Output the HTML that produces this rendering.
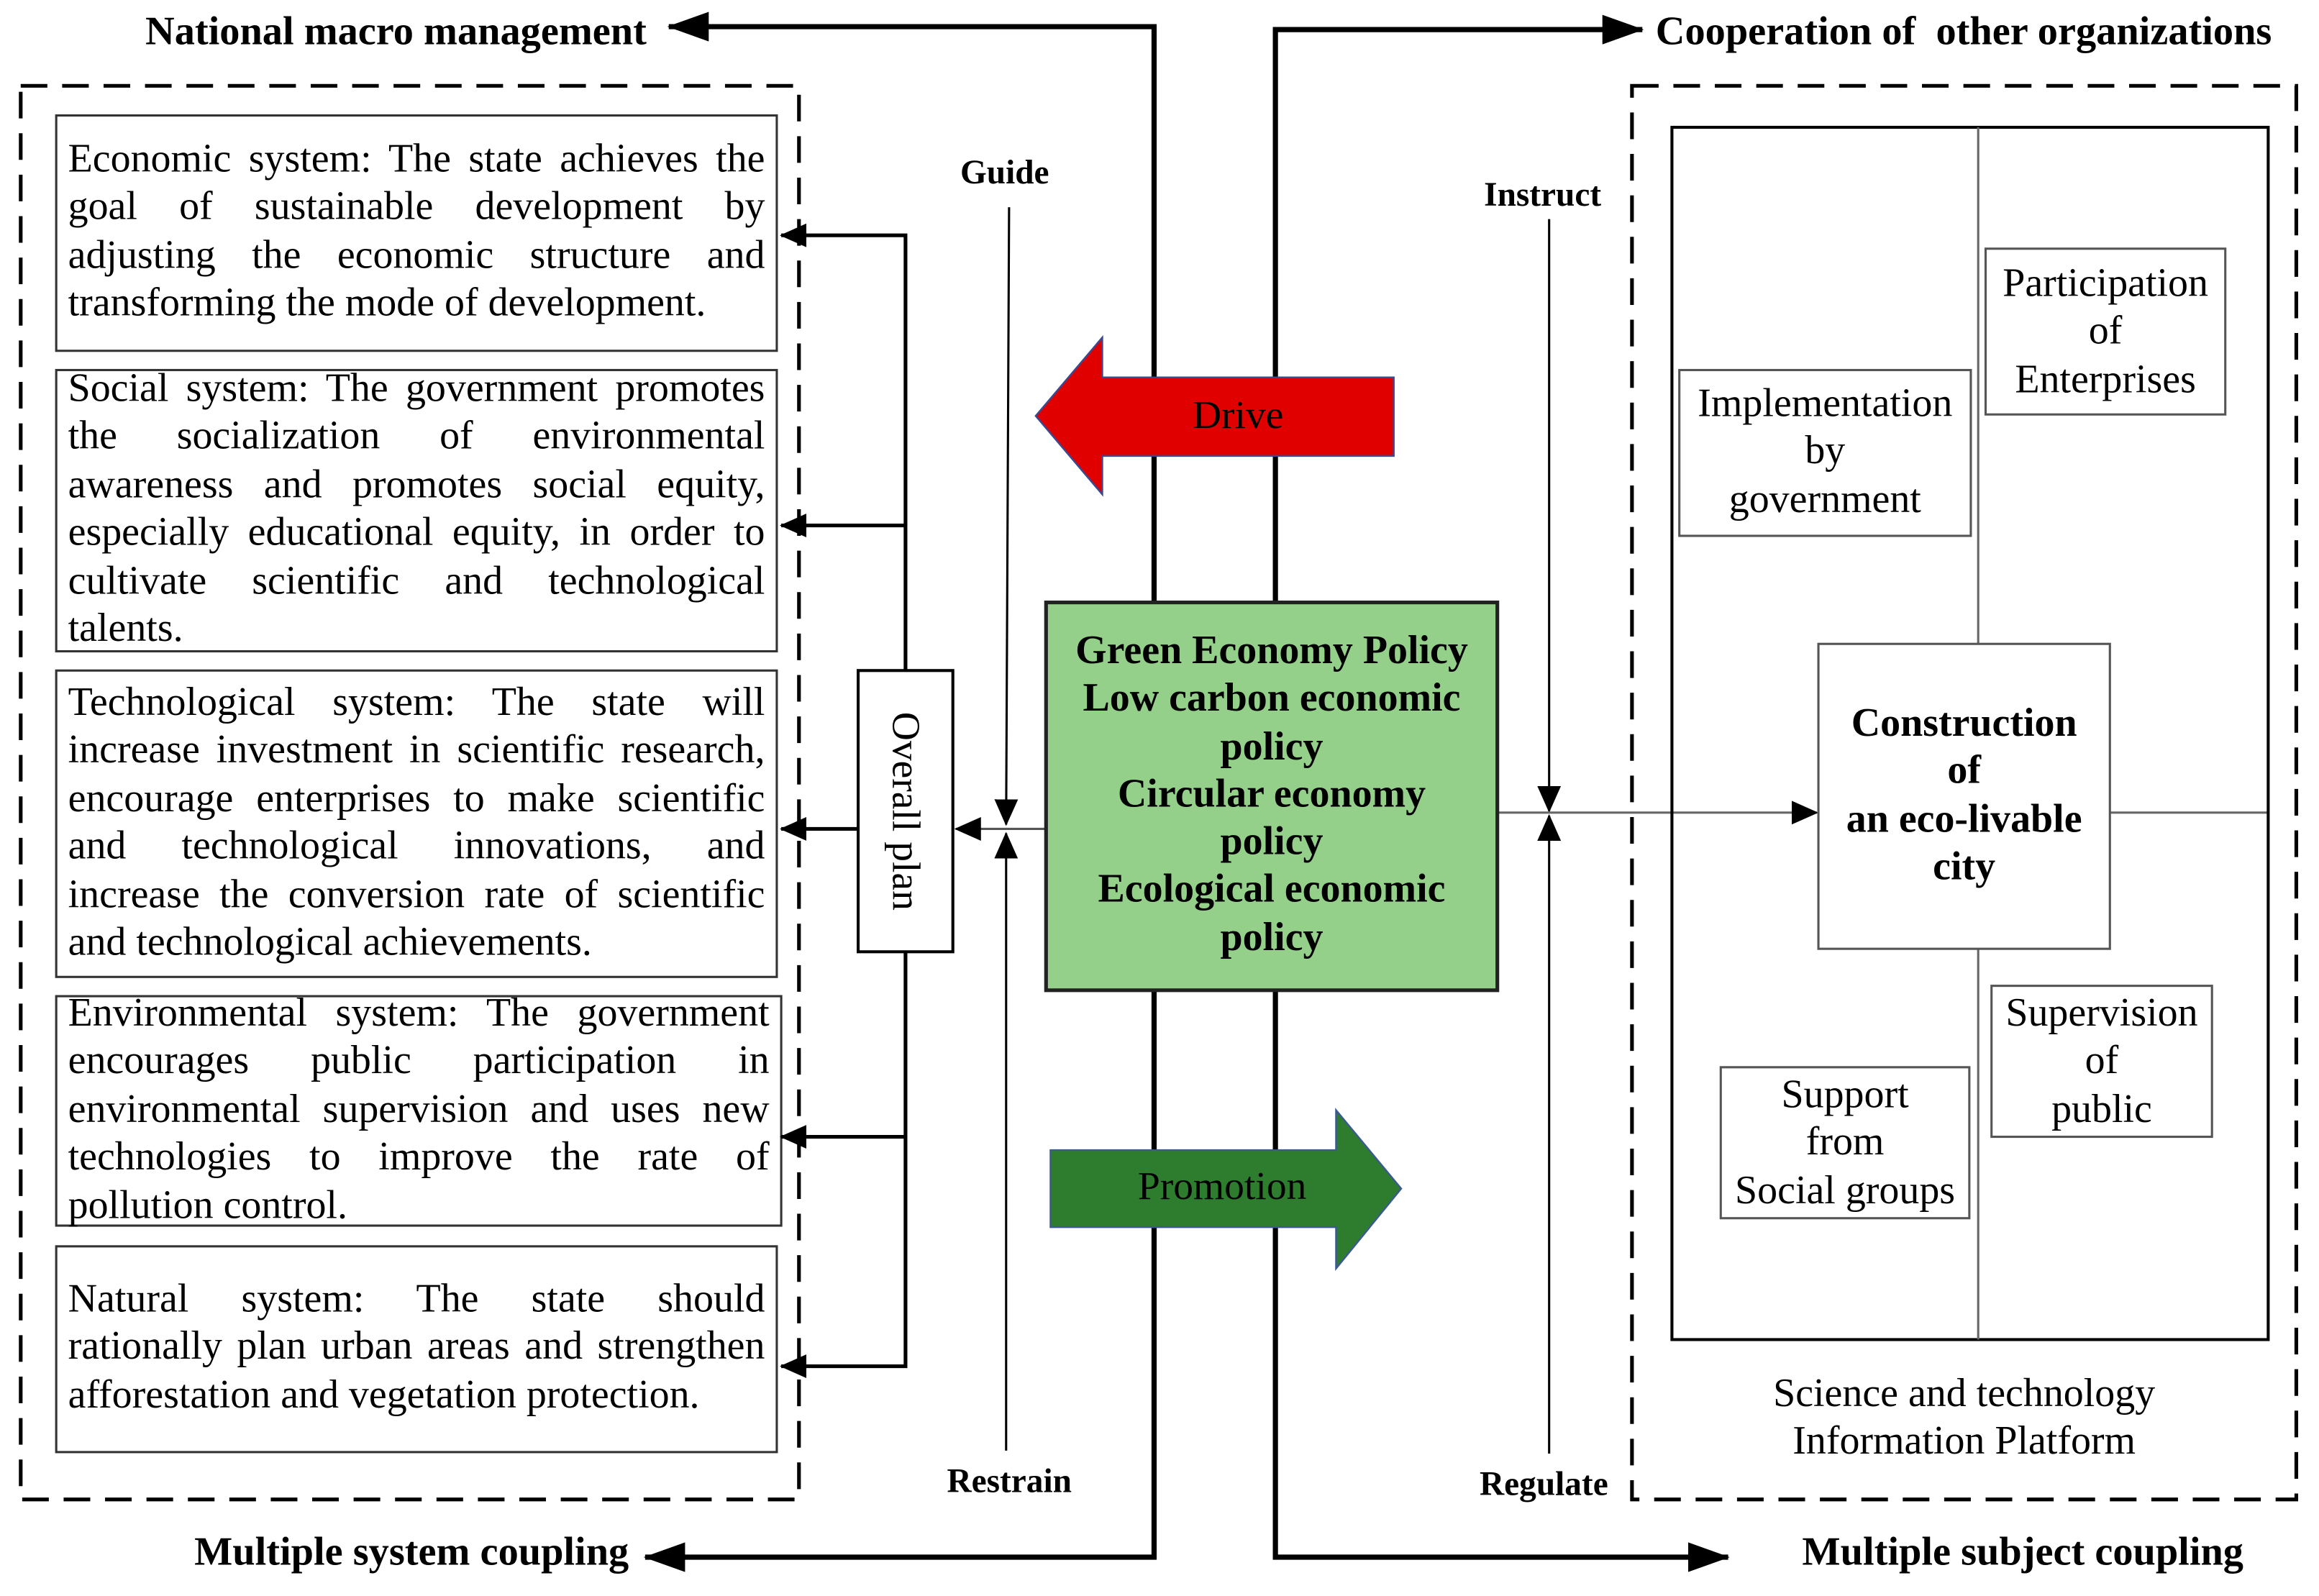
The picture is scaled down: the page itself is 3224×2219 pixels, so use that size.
<!DOCTYPE html>
<html><head><meta charset="utf-8"><style>
html,body{margin:0;padding:0;background:#fff;font-family:"Liberation Serif","Times New Roman",serif;}
#wrap{position:relative;width:1560px;height:1074px;transform:scale(2.057,2.058);transform-origin:0 0;font-family:"Liberation Serif","Times New Roman",serif;color:#000;}
svg{position:absolute;left:0;top:0;}
.p{position:absolute;font-size:27.2px;line-height:32.4px;font-family:"Liberation Serif","Times New Roman",serif;}
.p div{text-align:justify;text-align-last:justify;white-space:normal;}
.p div.l{text-align-last:left;}
.t{position:absolute;white-space:nowrap;font-family:"Liberation Serif","Times New Roman",serif;}
.b{font-weight:bold;}
.c{position:absolute;text-align:center;font-size:27.2px;line-height:32.3px;font-family:"Liberation Serif","Times New Roman",serif;}
</style></head><body><div id="wrap">
<svg width="1560" height="1074" viewBox="0 0 1560 1074">
<defs>
<marker id="A" markerWidth="28" markerHeight="20" refX="27" refY="10" orient="auto" markerUnits="userSpaceOnUse"><path d="M0,0 L28,10 L0,20 z" fill="#000"/></marker>
<marker id="m" markerWidth="18" markerHeight="16" refX="17" refY="8" orient="auto" markerUnits="userSpaceOnUse"><path d="M0,0 L18,8 L0,16 z" fill="#000"/></marker>
</defs>
<g fill="none" stroke="#000">
<polyline points="780,407 780,18 452,18" stroke-width="3.5" marker-end="url(#A)"/>
<polyline points="780,669 780,1052 436,1052" stroke-width="3.5" marker-end="url(#A)"/>
<polyline points="862,407 862,20 1110,20" stroke-width="3.5" marker-end="url(#A)"/>
<polyline points="862,669 862,1052 1168,1052" stroke-width="3.5" marker-end="url(#A)"/>
<rect x="14" y="58" width="526" height="955" stroke-width="2.5" stroke-dasharray="18,10"/>
<rect x="1103" y="58" width="449" height="955" stroke-width="2.5" stroke-dasharray="18,10"/>
<g stroke="#333" stroke-width="1.5">
<rect x="38" y="78" width="487" height="159"/>
<rect x="38" y="250" width="487" height="190"/>
<rect x="38" y="453" width="487" height="207"/>
<rect x="38" y="673" width="490" height="155"/>
<rect x="38" y="842" width="487" height="139"/>
</g>
<rect x="580" y="453" width="64" height="190" stroke-width="2"/>
<polyline points="612,453 612,159 528,159" stroke-width="2.5" marker-end="url(#m)"/>
<line x1="612" y1="355" x2="528" y2="355" stroke-width="2.5" marker-end="url(#m)"/>
<polyline points="612,643 612,923 528,923" stroke-width="2.5" marker-end="url(#m)"/>
<line x1="612" y1="768" x2="528" y2="768" stroke-width="2.5" marker-end="url(#m)"/>
<line x1="580" y1="560" x2="528" y2="560" stroke-width="2.5" marker-end="url(#m)"/>
<line x1="707" y1="560" x2="646" y2="560" stroke="#555" stroke-width="1.5" marker-end="url(#m)"/>
<line x1="682" y1="140" x2="680" y2="557" stroke-width="1.5" marker-end="url(#m)"/>
<line x1="680" y1="980" x2="680" y2="563" stroke-width="1.5" marker-end="url(#m)"/>
<line x1="1047" y1="148" x2="1047" y2="548" stroke-width="1.5" marker-end="url(#m)"/>
<line x1="1047" y1="982" x2="1047" y2="551" stroke-width="1.5" marker-end="url(#m)"/>
<line x1="1012" y1="549" x2="1228" y2="549" stroke="#666" stroke-width="1.5" marker-end="url(#m)"/>
<line x1="1426" y1="549" x2="1533" y2="549" stroke="#666" stroke-width="1.5"/>
<rect x="1130" y="86" width="403" height="819" stroke-width="2"/>
<line x1="1337" y1="86" x2="1337" y2="435" stroke="#666" stroke-width="1.5"/>
<line x1="1337" y1="641" x2="1337" y2="905" stroke="#666" stroke-width="1.5"/>
<g stroke="#555" stroke-width="1.5" fill="#fff">
<rect x="1229" y="435" width="197" height="206"/>
<rect x="1342" y="168" width="162" height="112"/>
<rect x="1135" y="250" width="197" height="112"/>
<rect x="1346" y="666" width="149" height="102"/>
<rect x="1163" y="721" width="168" height="102"/>
</g>
</g>
<rect x="707" y="407" width="305" height="262" fill="#94d08a" stroke="#222" stroke-width="2.5"/>
<path d="M700,281 L745,228 L745,255 L942,255 L942,308 L745,308 L745,334 Z" fill="#e00000" stroke="#3a4a90" stroke-width="1.2"/>
<path d="M710,777 L903,777 L903,750 L947,803 L903,857 L903,829 L710,829 Z" fill="#2e7d2e" stroke="#3a5a90" stroke-width="1.2"/>
</svg>

<div class="t b" style="font-size:27.4px;right:1123px;top:6px;">National macro management</div>
<div class="t b" style="font-size:27.4px;left:1119px;top:6px;">Cooperation of&nbsp; other organizations</div>
<div class="t b" style="font-size:27.4px;right:1135px;top:1033px;">Multiple system coupling</div>
<div class="t b" style="font-size:27.4px;left:1218px;top:1033px;">Multiple subject coupling</div>
<div class="t b" style="font-size:23px;left:649px;top:104px;">Guide</div>
<div class="t b" style="font-size:23px;left:640px;top:988px;">Restrain</div>
<div class="t b" style="font-size:23px;left:1003px;top:119px;">Instruct</div>
<div class="t b" style="font-size:23px;left:1000px;top:990px;">Regulate</div>

<div class="p" style="left:46px;top:91px;width:471px;">
<div>Economic system: The state achieves the</div>
<div>goal of sustainable development by</div>
<div>adjusting the economic structure and</div>
<div class="l">transforming the mode of development.</div></div>
<div class="p" style="left:46px;top:246px;width:471px;">
<div>Social system: The government promotes</div>
<div>the socialization of environmental</div>
<div>awareness and promotes social equity,</div>
<div>especially educational equity, in order to</div>
<div>cultivate scientific and technological</div>
<div class="l">talents.</div></div>
<div class="p" style="left:46px;top:458px;width:471px;">
<div>Technological system: The state will</div>
<div>increase investment in scientific research,</div>
<div>encourage enterprises to make scientific</div>
<div>and technological innovations, and</div>
<div>increase the conversion rate of scientific</div>
<div class="l">and technological achievements.</div></div>
<div class="p" style="left:46px;top:668px;width:474px;">
<div>Environmental system: The government</div>
<div>encourages public participation in</div>
<div>environmental supervision and uses new</div>
<div>technologies to improve the rate of</div>
<div class="l">pollution control.</div></div>
<div class="p" style="left:46px;top:861px;width:471px;">
<div>Natural system: The state should</div>
<div>rationally plan urban areas and strengthen</div>
<div class="l">afforestation and vegetation protection.</div></div>

<div class="t" style="font-size:27px;left:612px;top:548px;transform:translate(-50%,-50%) rotate(90deg);">Overall plan</div>

<div class="c b" style="left:707px;top:423px;width:305px;">Green Economy Policy<br>Low carbon economic<br>policy<br>Circular economy<br>policy<br>Ecological economic<br>policy</div>
<div class="t" style="font-size:27px;left:806px;top:265px;">Drive</div>
<div class="t" style="font-size:27px;left:769px;top:786px;">Promotion</div>

<div class="c b" style="left:1229px;top:472px;width:197px;">Construction<br>of<br>an eco-livable<br>city</div>
<div class="c" style="left:1342px;top:175px;width:162px;">Participation<br>of<br>Enterprises</div>
<div class="c" style="left:1135px;top:256px;width:197px;">Implementation<br>by<br>government</div>
<div class="c" style="left:1346px;top:668px;width:149px;">Supervision<br>of<br>public</div>
<div class="c" style="left:1163px;top:723px;width:168px;">Support<br>from<br>Social groups</div>
<div class="c" style="left:1130px;top:925px;width:395px;">Science and technology<br>Information Platform</div>
</div></body></html>
